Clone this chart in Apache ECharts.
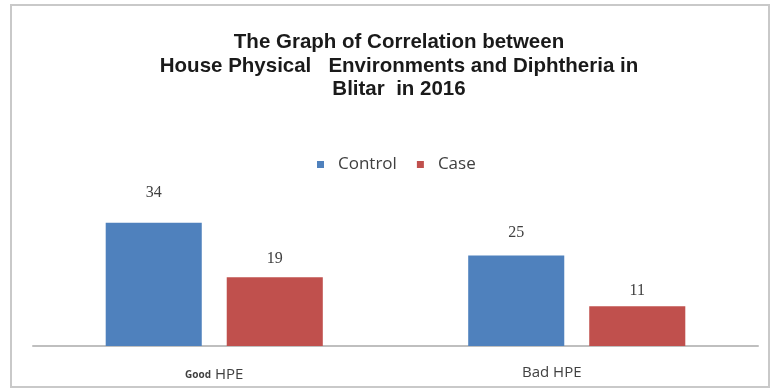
<!DOCTYPE html>
<html>
<head>
<meta charset="utf-8">
<script src="https://cdn.jsdelivr.net/npm/echarts@6/dist/echarts.min.js"></script>
<style>html,body{margin:0;padding:0;background:#fff}#c{width:772px;height:390px}</style>
</head>
<body>
<div id="c"></div>
<script>
var categories = ['Good HPE', 'Bad HPE'];
var controlValues = [34, 25];
var caseValues = [19, 11];
var seriesNames = ['Control', 'Case'];
var titleText = 'The Graph of Correlation between\nHouse Physical   Environments and Diphtheria in\nBlitar  in 2016';

var chart = echarts.init(document.getElementById('c'));
function withLabelDist(vals, dists) {
  return vals.map(function (v, i) { return { value: v, label: { distance: dists[i] } }; });
}
chart.setOption({
  animation: false,
  backgroundColor: '#fff',
  graphic: [{
    type: 'rect', shape: { x: 11, y: 5, width: 758, height: 382 },
    style: { fill: 'none', stroke: '#c9c9c9', lineWidth: 2 }, z: -1
  }],
  title: {
    text: titleText, left: 394, top: 26, textAlign: 'center',
    textStyle: { fontFamily: 'Liberation Sans', fontWeight: 'bold', fontSize: 20.5, lineHeight: 23.5, color: '#1a1a1a' }
  },
  legend: {
    data: seriesNames, left: 312, top: 151, itemWidth: 7, itemHeight: 7, itemGap: 20,
    icon: 'rect',
    textStyle: { fontFamily: 'Open Sans', fontSize: 17, color: '#404040', padding: [0, 0, 0, 9] }
  },
  grid: { left: 33, right: 14, top: 201, bottom: 44 },
  xAxis: {
    type: 'category', data: [
      { value: categories[0] },
      { value: categories[1], textStyle: { padding: [0, 50, 0, 0] } }
    ],
    axisLine: { lineStyle: { color: '#bfbfbf', width: 2 } },
    axisTick: { show: false },
    axisLabel: {
      margin: 18, fontFamily: 'Open Sans', fontSize: 15, lineHeight: 18, color: '#404040',
      formatter: function (v) {
        var p = v.split(' ');
        return p[0] === 'Good' ? '{s|' + p[0] + '}{h| ' + p[1] + '}' : v;
      },
      rich: {
        s: { fontFamily: 'Open Sans', fontSize: 10, fontWeight: 'bold', color: '#404040', lineHeight: 18, verticalAlign: 'bottom', padding: [0, 0, 2, 0] },
        h: { fontFamily: 'Open Sans', fontSize: 15, color: '#404040', lineHeight: 18, verticalAlign: 'bottom' }
      }
    }
  },
  yAxis: { type: 'value', min: 0, max: 40, show: false, splitLine: { show: false } },
  series: [
    {
      name: seriesNames[0], type: 'bar', barWidth: '26.5%', barGap: '26%',
      itemStyle: { color: '#4F81BD' },
      label: { show: true, position: 'top', fontFamily: 'Liberation Serif', fontSize: 16, color: '#404040' },
      data: withLabelDist(controlValues, [22, 15])
    },
    {
      name: seriesNames[1], type: 'bar', barWidth: '26.5%',
      itemStyle: { color: '#C0504D' },
      label: { show: true, position: 'top', fontFamily: 'Liberation Serif', fontSize: 16, color: '#404040' },
      data: withLabelDist(caseValues, [10, 7])
    }
  ]
});
</script>
</body>
</html>
